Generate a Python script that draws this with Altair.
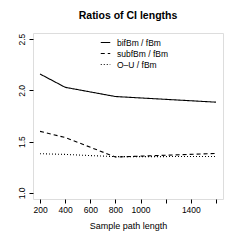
import altair as alt
import pandas as pd

sizes = [200, 400, 800, 1600]
bif = [2.16, 2.03, 1.94, 1.885]
subf = [1.60, 1.54, 1.35, 1.385]
ou = [1.382, 1.375, 1.353, 1.355]
series = ["bifBm / fBm", "subfBm / fBm", "O\u2013U / fBm"]
x_ticks = [200, 400, 600, 800, 1000, 1200, 1400, 1600]
y_ticks = [1.0, 1.5, 2.0, 2.5]

rows = []
for name, vals in zip(series, [bif, subf, ou]):
    for s, v in zip(sizes, vals):
        rows.append({"n": s, "ratio": v, "series": name})
df = pd.DataFrame(rows)

FONT = "Liberation Sans"

xs = alt.Scale(domain=[144, 1656], nice=False, zero=False)
ys = alt.Scale(domain=[0.94, 2.56], nice=False, zero=False)

lines = alt.Chart(df).mark_line(color="black", strokeWidth=1.1).encode(
    x=alt.X("n:Q", scale=xs, title="Sample path length",
            axis=alt.Axis(values=x_ticks, grid=False, domain=False,
                          labelExpr="(datum.value == 1200 || datum.value == 1600) ? '' : datum.label",
                          format="d", tickSize=4, tickColor="black",
                          labelFontSize=8.5, labelFont=FONT, labelColor="black",
                          titleFontSize=9, titleFont=FONT, titleFontWeight="normal",
                          titleColor="black", labelPadding=2, titlePadding=8)),
    y=alt.Y("ratio:Q", scale=ys, title=None,
            axis=alt.Axis(values=y_ticks, grid=False, domain=False, format=".1f",
                          labelAngle=-90, labelAlign="center", labelBaseline="bottom",
                          tickSize=4, tickColor="black",
                          labelFontSize=8.5, labelFont=FONT, labelColor="black",
                          labelPadding=3)),
    detail="series:N",
    strokeDash=alt.StrokeDash("series:N", sort=series,
                              scale=alt.Scale(domain=series,
                                              range=[[1, 0], [4, 3], [1, 2]]),
                              legend=alt.Legend(orient="none", legendX=67, legendY=4,
                                                title=None, symbolType="stroke",
                                                symbolStrokeColor="black",
                                                symbolSize=90, symbolStrokeWidth=1.1,
                                                labelFont=FONT, labelFontSize=8.5,
                                                labelColor="black", rowPadding=1,
                                                labelOffset=6)),
)

chart = lines.properties(
    width=190, height=166,
    autosize=alt.AutoSizeParams(type="none"),
    title=alt.TitleParams("Ratios of CI lengths", font=FONT, fontSize=10.5,
                          fontWeight="bold", color="black", anchor="middle", offset=12),
    padding={"left": 25, "top": 25, "right": 9, "bottom": 36},
).configure_view(stroke="black", strokeWidth=1).configure(background="white")

chart.save("out.html", embed_options={"renderer": "svg", "actions": False})
